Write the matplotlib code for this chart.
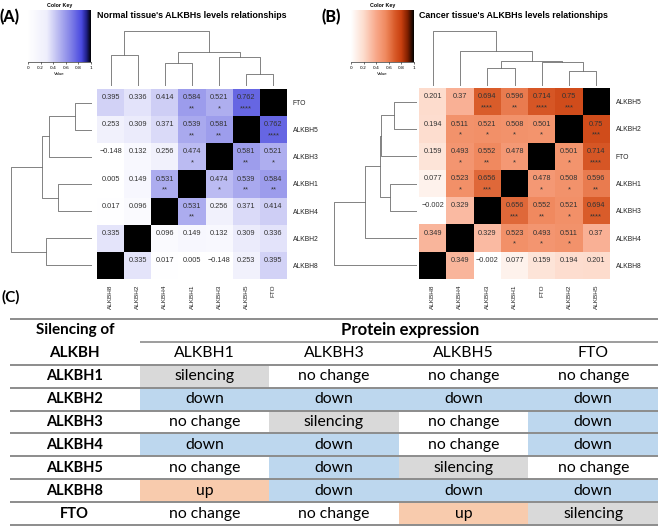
import numpy as np
import matplotlib.pyplot as plt
from matplotlib.colors import LinearSegmentedColormap
from matplotlib.patches import Rectangle

W, H = 658, 528

# Data
genes = ["ALKBH1", "ALKBH2", "ALKBH3", "ALKBH4", "ALKBH5", "ALKBH8", "FTO"]

normal_corr = [
    [1, 0.149, 0.474, 0.531, 0.539, 0.005, 0.584],
    [0.149, 1, 0.132, 0.096, 0.309, 0.335, 0.336],
    [0.474, 0.132, 1, 0.256, 0.581, -0.148, 0.521],
    [0.531, 0.096, 0.256, 1, 0.371, 0.017, 0.414],
    [0.539, 0.309, 0.581, 0.371, 1, 0.253, 0.762],
    [0.005, 0.335, -0.148, 0.017, 0.253, 1, 0.395],
    [0.584, 0.336, 0.521, 0.414, 0.762, 0.395, 1],
]
normal_stars = [
    ["", "", "*", "**", "**", "", "**"],
    ["", "", "", "", "", "", ""],
    ["*", "", "", "", "**", "", "*"],
    ["**", "", "", "", "", "", ""],
    ["**", "", "**", "", "", "", "****"],
    ["", "", "", "", "", "", ""],
    ["**", "", "*", "", "****", "", ""],
]
normal_order = ["ALKBH8", "ALKBH2", "ALKBH4", "ALKBH1", "ALKBH3", "ALKBH5", "FTO"]
normal_merges = [("ALKBH5", "FTO", 0.21), ("ALKBH4", "ALKBH1", 0.42), ("ALKBH3", "n0", 0.53),
                 ("ALKBH8", "ALKBH2", 0.57), ("n1", "n2", 0.62), ("n3", "n4", 1.0)]

cancer_corr = [
    [1, 0.508, 0.656, 0.523, 0.596, 0.077, 0.478],
    [0.508, 1, 0.521, 0.511, 0.75, 0.194, 0.501],
    [0.656, 0.521, 1, 0.329, 0.694, -0.002, 0.552],
    [0.523, 0.511, 0.329, 1, 0.37, 0.349, 0.493],
    [0.596, 0.75, 0.694, 0.37, 1, 0.201, 0.714],
    [0.077, 0.194, -0.002, 0.349, 0.201, 1, 0.159],
    [0.478, 0.501, 0.552, 0.493, 0.714, 0.159, 1],
]
cancer_stars = [
    ["", "*", "***", "*", "**", "", "*"],
    ["*", "", "*", "*", "***", "", "*"],
    ["***", "*", "", "", "****", "", "**"],
    ["*", "*", "", "", "", "", "*"],
    ["**", "***", "****", "", "", "", "****"],
    ["", "", "", "", "", "", ""],
    ["*", "*", "**", "*", "****", "", ""],
]
cancer_order = ["ALKBH8", "ALKBH4", "ALKBH3", "ALKBH1", "FTO", "ALKBH2", "ALKBH5"]
cancer_merges = [("ALKBH2", "ALKBH5", 0.28), ("ALKBH3", "ALKBH1", 0.33), ("FTO", "n0", 0.43),
                 ("n1", "n2", 0.45), ("ALKBH4", "n3", 0.63), ("ALKBH8", "n4", 1.0)]

silenced = ["ALKBH1", "ALKBH2", "ALKBH3", "ALKBH4", "ALKBH5", "ALKBH8", "FTO"]
proteins = ["ALKBH1", "ALKBH3", "ALKBH5", "FTO"]
effects = [
    ["silencing", "no change", "no change", "no change"],
    ["down", "down", "down", "down"],
    ["no change", "silencing", "no change", "down"],
    ["down", "down", "no change", "down"],
    ["no change", "down", "silencing", "no change"],
    ["up", "down", "down", "down"],
    ["no change", "no change", "up", "silencing"],
]
effect_colors = {"down": "#bdd7ee", "silencing": "#d9d9d9", "up": "#f8cbad", "no change": "white"}

blue_cmap = LinearSegmentedColormap.from_list("blues", [
    (0, "#ffffff"), (0.3, "#eeeefc"), (0.5, "#b4b4f0"), (0.7, "#7b7be6"),
    (0.85, "#4a4ae0"), (0.93, "#20208a"), (1, "#000000")])
red_cmap = LinearSegmentedColormap.from_list("reds", [
    (0, "#ffffff"), (0.2, "#fddccd"), (0.4, "#f8a88a"), (0.55, "#f08a60"),
    (0.7, "#d85a28"), (0.8, "#c84010"), (0.9, "#802000"), (1, "#000000")])

HM_FONT = "Liberation Sans"
TB_FONT = "Lato"


def px_axes(fig, x0, y0, x1, y1):
    return fig.add_axes([x0 / W, 1 - y1 / H, (x1 - x0) / W, (y1 - y0) / H])


def fmt(v):
    s = ("%.3f" % v).rstrip("0").rstrip(".")
    return s.replace("-", "\u2212")


def draw_dendro(ax, merges, order, vertical):
    pos = {g: i + 0.5 for i, g in enumerate(order)}
    hgt = {g: 0.0 for g in order}
    for k, (a, b, h) in enumerate(merges):
        xs = [pos[a], pos[a], pos[b], pos[b]]
        ys = [hgt[a], h, h, hgt[b]]
        if vertical:
            ax.plot(xs, ys, color="#6e6e6e", lw=0.6)
        else:
            ax.plot(ys, xs, color="#6e6e6e", lw=0.6)
        pos["n%d" % k] = (pos[a] + pos[b]) / 2
        hgt["n%d" % k] = h
    n = len(order)
    if vertical:
        ax.set_xlim(0, n)
        ax.set_ylim(0, 1)
    else:
        ax.set_ylim(0, n)
        ax.set_xlim(1, 0)
    ax.axis("off")


def draw_panel(fig, corr, stars, order, merges, cmap, heat, coldend, rowdend, key, title):
    idx = [genes.index(g) for g in order]
    m = np.array(corr)[np.ix_(idx, idx)]
    ax = px_axes(fig, *heat)
    ax.pcolormesh(m, cmap=cmap, vmin=0, vmax=1)
    for j, gj in enumerate(idx):
        for i, gi in enumerate(idx):
            if gi == gj:
                continue
            ax.text(i + 0.5, j + 0.68, fmt(corr[gj][gi]), ha="center", va="center",
                    fontsize=5.3, color="#333333", family=HM_FONT)
            if stars[gj][gi]:
                ax.text(i + 0.5, j + 0.27, stars[gj][gi], ha="center", va="center",
                        fontsize=5.5, color="#333333", family=HM_FONT)
    ax.set_xlim(0, len(order))
    ax.set_ylim(0, len(order))
    ax.set_xticks(np.arange(len(order)) + 0.5)
    ax.set_xticklabels(order, rotation=90, fontsize=4.6, family=HM_FONT, color="#222222")
    ax.set_yticks(np.arange(len(order)) + 0.5)
    ax.set_yticklabels(order, fontsize=4.9, family=HM_FONT, color="#222222")
    ax.yaxis.tick_right()
    ax.tick_params(length=0, pad=4)
    for s in ax.spines.values():
        s.set_visible(False)

    draw_dendro(px_axes(fig, *coldend), merges, order, True)
    draw_dendro(px_axes(fig, *rowdend), merges, order, False)

    kax = px_axes(fig, *key)
    kax.imshow(np.linspace(0, 1, 256)[None, :], aspect="auto", cmap=cmap, extent=(0, 1, 0, 1))
    kax.set_xticks([0, 0.2, 0.4, 0.6, 0.8, 1])
    kax.set_xticklabels(["0", "0.2", "0.4", "0.6", "0.8", "1"])
    kax.set_yticks([])
    kax.tick_params(axis="x", length=1.5, width=0.4, labelsize=3.2, pad=1.5)
    for s in ["top", "left", "right"]:
        kax.spines[s].set_visible(False)
    kax.spines["bottom"].set_linewidth(0.4)
    kax.set_xlabel("Value", fontsize=3.2, labelpad=1, family=HM_FONT)
    kax.set_title("Color Key", fontsize=3.8, fontweight="bold", pad=2, family=HM_FONT)

    fig.text(heat[0] / W, 1 - 16 / H, title, fontsize=6.4, fontweight="bold",
             family=HM_FONT, va="center", ha="left")


fig = plt.figure(figsize=(W / 100, H / 100), dpi=100)

draw_panel(fig, normal_corr, normal_stars, normal_order, normal_merges, blue_cmap,
           (97, 89, 287, 279), (97, 31, 287, 86), (11, 89, 92, 279), (28, 10, 91, 62),
           "Normal tissue's ALKBHs levels relationships")
draw_panel(fig, cancer_corr, cancer_stars, cancer_order, cancer_merges, red_cmap,
           (419, 88, 610, 279), (419, 31, 610, 86), (334, 88, 417, 279), (351, 10, 414, 62),
           "Cancer tissue's ALKBHs levels relationships")

fig.text(0 / W, 1 - 17 / H, "(A)", fontsize=11.5, fontweight="black", family=TB_FONT, va="center")
fig.text(322 / W, 1 - 17 / H, "(B)", fontsize=11.5, fontweight="black", family=TB_FONT, va="center")
fig.text(2 / W, 1 - 297 / H, "(C)", fontsize=11, fontweight="bold", family=TB_FONT, va="center")

# Table
tax = px_axes(fig, 10, 319, 658, 525)
tax.set_xlim(-1, len(proteins))
tax.set_ylim(len(silenced) + 2, 0)
tax.axis("off")
for r, row in enumerate(effects):
    for c, e in enumerate(row):
        tax.add_patch(Rectangle((c, r + 2), 1, 1, facecolor=effect_colors[e], edgecolor="none"))
        tax.text(c + 0.5, r + 2.5, e, ha="center", va="center", fontsize=11.3, family=TB_FONT)
    tax.text(-0.5, r + 2.5, silenced[r], ha="center", va="center", fontsize=10.5,
             fontweight="bold", family=TB_FONT)
for c, p in enumerate(proteins):
    tax.text(c + 0.5, 1.5, p, ha="center", va="center", fontsize=11.3, family=TB_FONT)
tax.text(-0.5, 0.5, "Silencing of", ha="center", va="center", fontsize=11, fontweight="bold", family=TB_FONT)
tax.text(-0.5, 1.5, "ALKBH", ha="center", va="center", fontsize=11, fontweight="bold", family=TB_FONT)
tax.text(len(proteins) / 2 + 0.09, 0.5, "Protein expression", ha="center", va="center", fontsize=12,
         fontweight="bold", family=TB_FONT)
tax.hlines([0] + list(range(2, len(silenced) + 3)), -1, len(proteins), color="#8c8c8c", lw=1.4, clip_on=False)
tax.hlines(1, 0, len(proteins), color="#8c8c8c", lw=1.2, clip_on=False)

fig.savefig("out.png", dpi=100)
